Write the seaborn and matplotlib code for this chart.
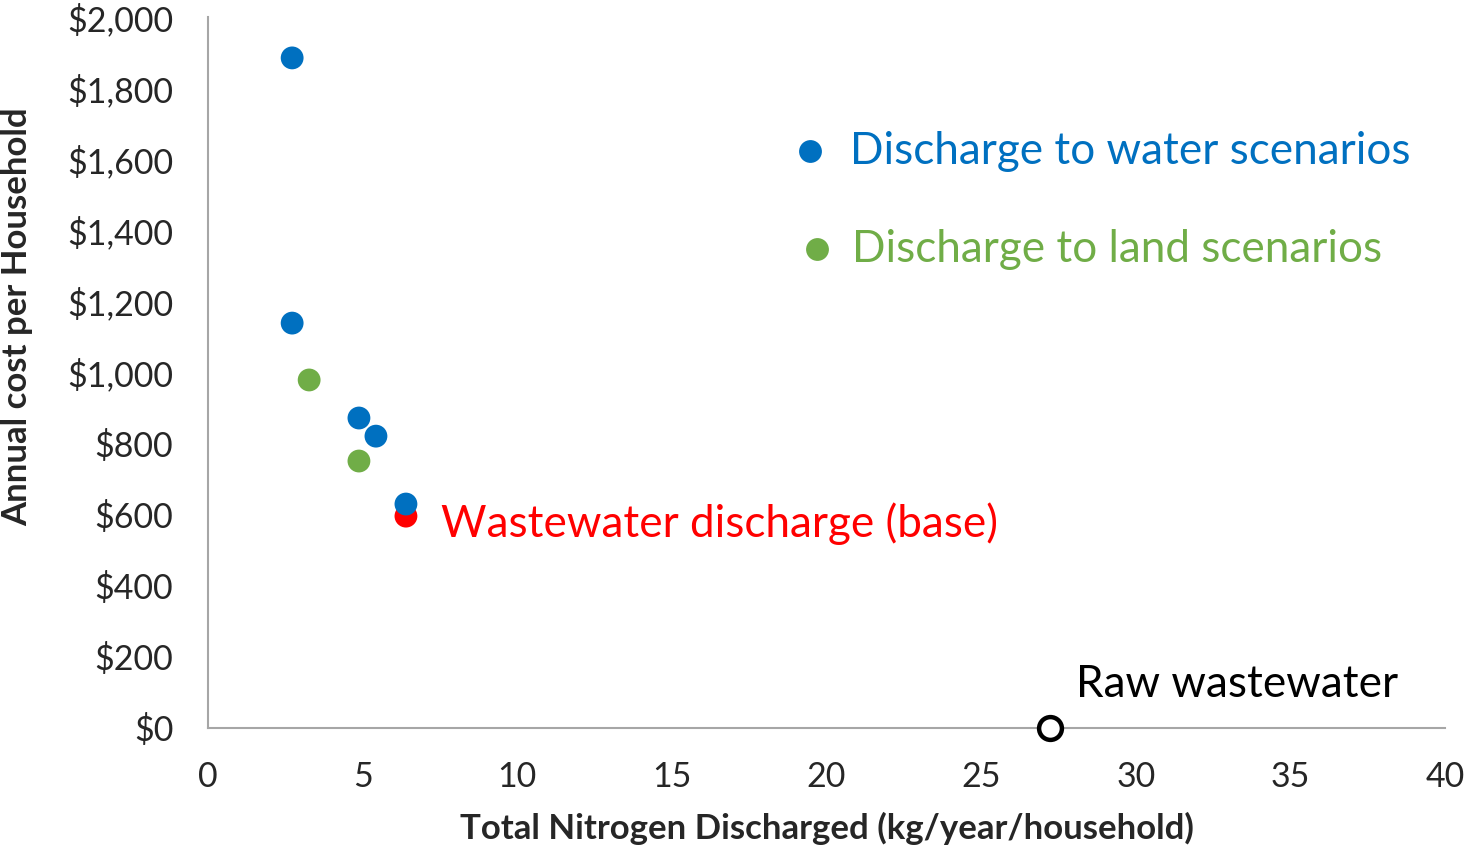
import matplotlib
matplotlib.use("Agg")
import matplotlib.pyplot as plt
import matplotlib.ticker as mticker
import seaborn as sns
import pandas as pd

# scenario values
water_n = [2.72, 2.72, 4.88, 5.43, 6.40]
water_cost = [1885, 1139, 872, 821, 630]
land_n = [3.27, 4.88]
land_cost = [979, 751]
base_n = [6.40]
base_cost = [596]
raw_n = [27.23]
raw_cost = [0]

BLUE = "#0070C0"
GREEN = "#70AD47"
RED = "#FF0000"
AXIS_GRAY = "#A6A6A6"

sns.set_style("white")
plt.rcParams["font.family"] = ["Lato", "DejaVu Sans"]

df = pd.concat([
    pd.DataFrame({"n": base_n, "cost": base_cost, "group": "base"}),
    pd.DataFrame({"n": water_n, "cost": water_cost, "group": "water"}),
    pd.DataFrame({"n": land_n, "cost": land_cost, "group": "land"}),
], ignore_index=True)

fig = plt.figure(figsize=(14.64, 8.47), dpi=100)
ax = fig.add_axes([0.1421, 0.1405, 0.8449, 0.8394])

sns.scatterplot(data=df, x="n", y="cost", hue="group",
                palette={"base": RED, "water": BLUE, "land": GREEN},
                s=270, linewidth=0, legend=False, ax=ax, zorder=3)
sns.scatterplot(x=raw_n, y=raw_cost, s=270, facecolor="white",
                edgecolor="black", linewidth=3.2, ax=ax, zorder=4, clip_on=False)

ax.set_xlim(0, 40)
ax.set_ylim(0, 2000)
ax.set_xticks(range(0, 41, 5))
ax.set_yticks(range(0, 2001, 200))
ax.yaxis.set_major_formatter(mticker.FuncFormatter(lambda v, p: f"${v:,.0f}"))
ax.tick_params(direction="in", length=11, width=1.2, color=AXIS_GRAY,
               labelsize=24.5)
ax.tick_params(axis="y", pad=25)
ax.tick_params(axis="x", pad=24)

for side in ["top", "right"]:
    ax.spines[side].set_visible(False)
for side in ["left", "bottom"]:
    ax.spines[side].set_color(AXIS_GRAY)
    ax.spines[side].set_linewidth(1.5)

ax.set_xlabel("Total Nitrogen Discharged (kg/year/household)", fontsize=25,
              fontweight="bold")
ax.set_ylabel("Annual cost per Household", fontsize=25, fontweight="bold")
ax.xaxis.set_label_coords(0.5, -0.118)
ax.yaxis.set_label_coords(-0.141, 0.579)

# manual legend
ax.scatter([19.47], [1623], s=270, color=BLUE, linewidth=0, zorder=3)
ax.text(20.76, 1623, "Discharge to water scenarios", color=BLUE, fontsize=31.7,
        va="center", ha="left")
ax.scatter([19.69], [1347], s=270, color=GREEN, linewidth=0, zorder=3)
ax.text(20.83, 1347, "Discharge to land scenarios", color=GREEN, fontsize=31.7,
        va="center", ha="left")

ax.text(7.53, 574, "Wastewater discharge (base)", color=RED, fontsize=31.7,
        va="center", ha="left")
ax.text(28.07, 121, "Raw wastewater", color="black", fontsize=31.7,
        va="center", ha="left")

fig.savefig("out.png", dpi=100)
